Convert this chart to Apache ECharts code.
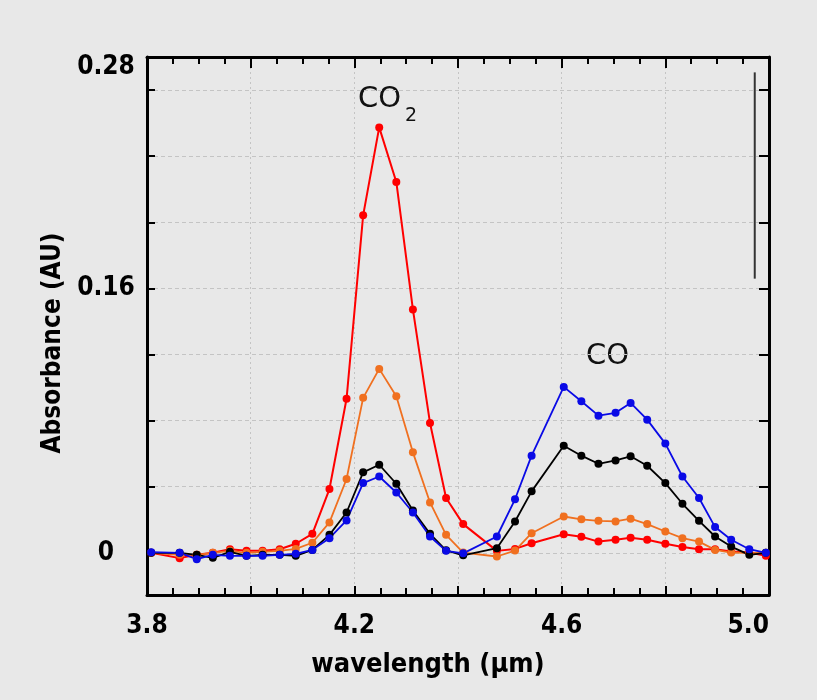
<!DOCTYPE html>
<html>
<head>
<meta charset="utf-8">
<script src="https://cdn.jsdelivr.net/npm/echarts@6/dist/echarts.min.js"></script>
<style>
html,body{margin:0;padding:0;background:#e8e8e8;}
#chart{width:817px;height:700px;}
</style>
</head>
<body>
<div id="chart"></div>
<script>
// wavelength (µm) sample positions shared by all spectra
const wavelength = [3.808, 3.863, 3.896, 3.927, 3.960, 3.992, 4.023, 4.056, 4.087, 4.119,
  4.152, 4.185, 4.217, 4.248, 4.281, 4.313, 4.346, 4.377, 4.410, 4.475,
  4.510, 4.542, 4.604, 4.638, 4.671, 4.704, 4.733, 4.765, 4.800, 4.833,
  4.865, 4.896, 4.927, 4.962, 4.994];
// absorbance (AU)
const redAbs = [0.000, -0.0032, -0.0012, 0.000, 0.0022, 0.0012, 0.0012, 0.0022, 0.0055, 0.0115,
  0.0386, 0.0932, 0.2042, 0.2574, 0.2244, 0.1473, 0.0786, 0.0332, 0.0174, 0.0012,
  0.0024, 0.0058, 0.0113, 0.0097, 0.0068, 0.0079, 0.0091, 0.0079, 0.0055, 0.0035,
  0.0022, 0.0022, 0.0008, 0.0002, -0.0018];
const orangeAbs = [0.000, -0.0012, -0.0012, 0.000, 0.0012, 0.000, 0.0006, 0.0012, 0.0024, 0.0061,
  0.0184, 0.0447, 0.0938, 0.1113, 0.0947, 0.0608, 0.0305, 0.0109, 0.0002, -0.0022,
  0.0014, 0.0119, 0.0220, 0.0203, 0.0194, 0.0190, 0.0207, 0.0174, 0.0129, 0.0089,
  0.0068, 0.0018, 0.0002, 0.000, 0.000];
const blackAbs = [0.000, 0.000, -0.0012, -0.0030, 0.0006, -0.0018, -0.0012, -0.0012, -0.0018, 0.0018,
  0.0109, 0.0244, 0.0487, 0.0533, 0.0418, 0.0256, 0.0115, 0.0015, -0.0015, 0.0028,
  0.0190, 0.0372, 0.0648, 0.0588, 0.0539, 0.0559, 0.0584, 0.0527, 0.0422, 0.0297,
  0.0194, 0.0099, 0.0038, -0.0012, 0.000];
const blueAbs = [0.0004, 0.000, -0.0038, -0.0012, -0.0018, -0.0018, -0.0018, -0.0012, -0.0006, 0.0018,
  0.0089, 0.0196, 0.0422, 0.0462, 0.0365, 0.0244, 0.0099, 0.0012, -0.0003, 0.0099,
  0.0324, 0.0588, 0.1004, 0.0917, 0.0830, 0.0847, 0.0907, 0.0806, 0.0661, 0.0462,
  0.0332, 0.0156, 0.0079, 0.0022, 0.000];
// vertical bar drawn inside the plot near the right edge
const barWavelength = [4.9725, 4.9725];
const barAbs = [0.2907, 0.1659];
// axis ticks and labels
const yTickValues = [0, 0.04, 0.08, 0.12, 0.16, 0.20, 0.24, 0.28];
const yLabelValues = [0, 0.16, 0.28];
const xLabelValues = [3.8, 4.2, 4.6, 5.0];

const FONT = "'DejaVu Sans Condensed', 'DejaVu Sans', sans-serif";
const pair = (xs, ys) => xs.map((x, i) => [x, ys[i]]);

const chart = echarts.init(document.getElementById('chart'));
const axisLineStyle = { color: '#000', width: 3 };
const tickStyle = { color: '#000', width: 2 };

function mkSeries(name, color, values, width) {
  return {
    name: name, type: 'line', data: pair(wavelength, values),
    symbol: 'circle', symbolSize: 8, showSymbol: true,
    itemStyle: { color: color },
    lineStyle: { color: color, width: width },
    animation: false, z: 3
  };
}

const series = [
  mkSeries('red', '#ff0000', redAbs, 2),
  mkSeries('orange', '#f07020', orangeAbs, 1.8),
  mkSeries('black', '#000000', blackAbs, 1.8),
  mkSeries('blue', '#0a0ae6', blueAbs, 1.8)
];
series.push({
  name: 'bar', type: 'line', data: pair(barWavelength, barAbs),
  symbol: 'none', lineStyle: { color: '#333', width: 2 }, animation: false, z: 2
});

chart.setOption({
  backgroundColor: '#e8e8e8',
  animation: false,
  grid: { left: 147, right: 48, top: 57, bottom: 105, show: false },
  xAxis: [{
    type: 'value', min: 3.8, max: 5.0, interval: 0.2, position: 'bottom',
    axisLine: { show: true, onZero: false, lineStyle: axisLineStyle },
    axisTick: { show: true, inside: true, length: 9, lineStyle: tickStyle },
    minorTick: { show: true, splitNumber: 4, length: 7, lineStyle: tickStyle },
    axisLabel: {
      margin: 18, color: '#000', fontFamily: FONT, fontWeight: 'bold', fontSize: 26,
      showMaxLabel: true, showMinLabel: true, alignMaxLabel: 'right',
      formatter: v => (xLabelValues.some(t => Math.abs(t - v) < 1e-6) ? v.toFixed(1) : '')
    },
    splitLine: { show: true, lineStyle: { color: '#c4c4c4', width: 1, type: [2, 3] } },
    name: 'wavelength (\u00b5m)', nameLocation: 'middle', nameGap: 56,
    nameTextStyle: { color: '#000', fontFamily: FONT, fontWeight: 'bold', fontSize: 27, padding: [0, 60, 0, 0] }
  }, {
    type: 'value', min: 3.8, max: 5.0, interval: 0.2, position: 'top',
    axisLine: { show: true, onZero: false, lineStyle: axisLineStyle },
    axisTick: { show: true, inside: true, length: 11, lineStyle: tickStyle },
    minorTick: { show: true, splitNumber: 4, length: 7, lineStyle: tickStyle },
    axisLabel: { show: false }, splitLine: { show: false }
  }],
  yAxis: [{
    type: 'value', min: -0.0255, max: 0.30, position: 'left',
    axisLine: { show: true, onZero: false, lineStyle: axisLineStyle },
    axisTick: { show: true, inside: true, length: 8, lineStyle: tickStyle, customValues: yTickValues },
    axisLabel: {
      customValues: yLabelValues, align: 'center', margin: 41,
      color: '#000', fontFamily: FONT, fontWeight: 'bold', fontSize: 26,
      formatter: v => (Math.abs(v - 0.28) < 1e-6 ? '{up|0.28}' : (v === 0 ? '0' : v.toFixed(2))),
      rich: { up: { fontFamily: FONT, fontWeight: 'bold', fontSize: 26, color: '#000', padding: [0, 0, 46, 0] } }
    },
    splitLine: { show: true, lineStyle: { color: '#c4c4c4', width: 1, type: [4, 3] } },
    name: 'Absorbance (AU)', nameLocation: 'middle', nameGap: 76,
    nameTextStyle: { color: '#000', fontFamily: FONT, fontWeight: 'bold', fontSize: 26, padding: [0, 34, 0, 0] }
  }, {
    type: 'value', min: -0.0255, max: 0.30, position: 'right',
    axisLine: { show: true, onZero: false, lineStyle: axisLineStyle },
    axisTick: { show: true, inside: true, length: 10, lineStyle: tickStyle, customValues: yTickValues },
    axisLabel: { show: false }, splitLine: { show: false }
  }],
  graphic: [
    { type: 'text', left: 358, top: 85, style: { text: 'CO', fontFamily: "'DejaVu Sans', sans-serif", fontSize: 29, fill: '#111' } },
    { type: 'text', left: 405, top: 107, style: { text: '2', fontFamily: "'DejaVu Sans', sans-serif", fontSize: 19, fill: '#111' } },
    { type: 'text', left: 586, top: 342, style: { text: 'CO', fontFamily: "'DejaVu Sans', sans-serif", fontSize: 29, fill: '#111' } }
  ],
  series: series
});
</script>
</body>
</html>
